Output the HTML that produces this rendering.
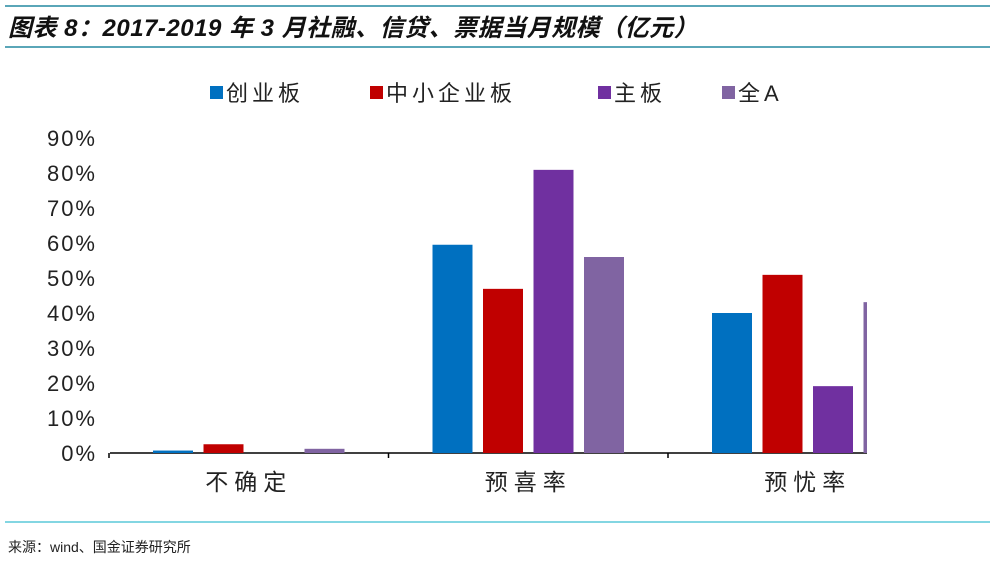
<!DOCTYPE html>
<html><head><meta charset="utf-8"><style>
body{margin:0;width:996px;height:563px;background:#fff;overflow:hidden;font-family:"Liberation Sans","Noto Sans CJK SC",sans-serif;}
</style></head><body>
<svg width="996" height="563" xmlns="http://www.w3.org/2000/svg">
<line x1="5" y1="6" x2="990" y2="6" stroke="#5aa6b8" stroke-width="2"/>
<text x="8" y="36" font-size="24" font-weight="bold" font-style="italic" fill="#111" letter-spacing="0.5" font-family="Liberation Sans, Noto Sans CJK SC, sans-serif">图表 8：2017-2019 年 3 月社融、信贷、票据当月规模（亿元）</text>
<line x1="5" y1="47" x2="990" y2="47" stroke="#5aa6b8" stroke-width="2"/>
<g id="legend"></g>
<g id="axes"></g>
<g id="bars"></g>
<line x1="5" y1="522" x2="990" y2="522" stroke="#5ac8d8" stroke-width="1.5"/>
<text x="8" y="552" font-size="14" fill="#222">来源：wind、国金证券研究所</text>
<defs><clipPath id="clip"><rect x="0" y="0" width="867" height="563"/></clipPath></defs>
</svg>
<script>
const categories=["不确定","预喜率","预忧率"];
const seriesNames=["创业板","中小企业板","主板","全A"];
const chuangye=[0.7,59.5,40.0];
const zhongxiao=[2.5,46.9,50.9];
const zhuban=[0,80.9,19.1];
const quanA=[1.2,56.0,43.1];
const ticks=["0%","10%","20%","30%","40%","50%","60%","70%","80%","90%"];
const colors=["#0070C0","#C00000","#7030A0","#8064A2"];
const series=[chuangye,zhongxiao,zhuban,quanA];
const NS="http://www.w3.org/2000/svg";
const x0=110,x1=867,y0=453,yTop=138,groupW=279.5,groupStart=109;
function y(v){return y0-(v/90)*(y0-yTop);}
function gx(i){return groupStart+groupW*i+groupW/2;}
function mk(t,a,p){const e=document.createElementNS(NS,t);for(const k in a)e.setAttribute(k,a[k]);p.appendChild(e);return e;}
const axes=document.getElementById('axes');
ticks.forEach((t,i)=>{
 const tx=mk('text',{x:97,y:y(i*10)+8,'font-size':22,'text-anchor':'end',fill:'#222','letter-spacing':2},axes);
 tx.textContent=t;
 
 
});
const xa=mk('line',{x1:x0,y1:y0,x2:x1,y2:y0,stroke:'#000','stroke-width':1.5},axes);


[0,1,2].forEach(i=>{
 const tk=mk('line',{x1:groupStart+groupW*i,y1:y0,x2:groupStart+groupW*i,y2:y0+5,stroke:'#000','stroke-width':1.5},axes);
 
 
});
categories.forEach((c,i)=>{
 const tx=mk('text',{x:gx(i),y:490,'font-size':23,'text-anchor':'middle',fill:'#222','letter-spacing':6},axes);
 tx.textContent=c;
 
 
});
const bars=document.getElementById('bars');
bars.setAttribute('clip-path','url(#clip)');
const bw=40,step=50.5;
series.forEach((s,si)=>{
 s.forEach((v,ci)=>{
  const bx=gx(ci)-2*step+si*step+(step-bw)/2;
  const r=mk('rect',{x:bx,y:y(v),width:bw,height:y0-y(v),fill:colors[si]},bars);
  
  
 });
});
const lg=document.getElementById('legend');
const lx=[210,370,598,722];
seriesNames.forEach((n,i)=>{
 const r=mk('rect',{x:lx[i],y:86,width:13,height:13,fill:colors[i]},lg);
 
 
 const t=mk('text',{x:lx[i]+16,y:101,'font-size':22,fill:'#222','letter-spacing':4},lg);
 t.textContent=n;
 
 
});
</script>
</body></html>
